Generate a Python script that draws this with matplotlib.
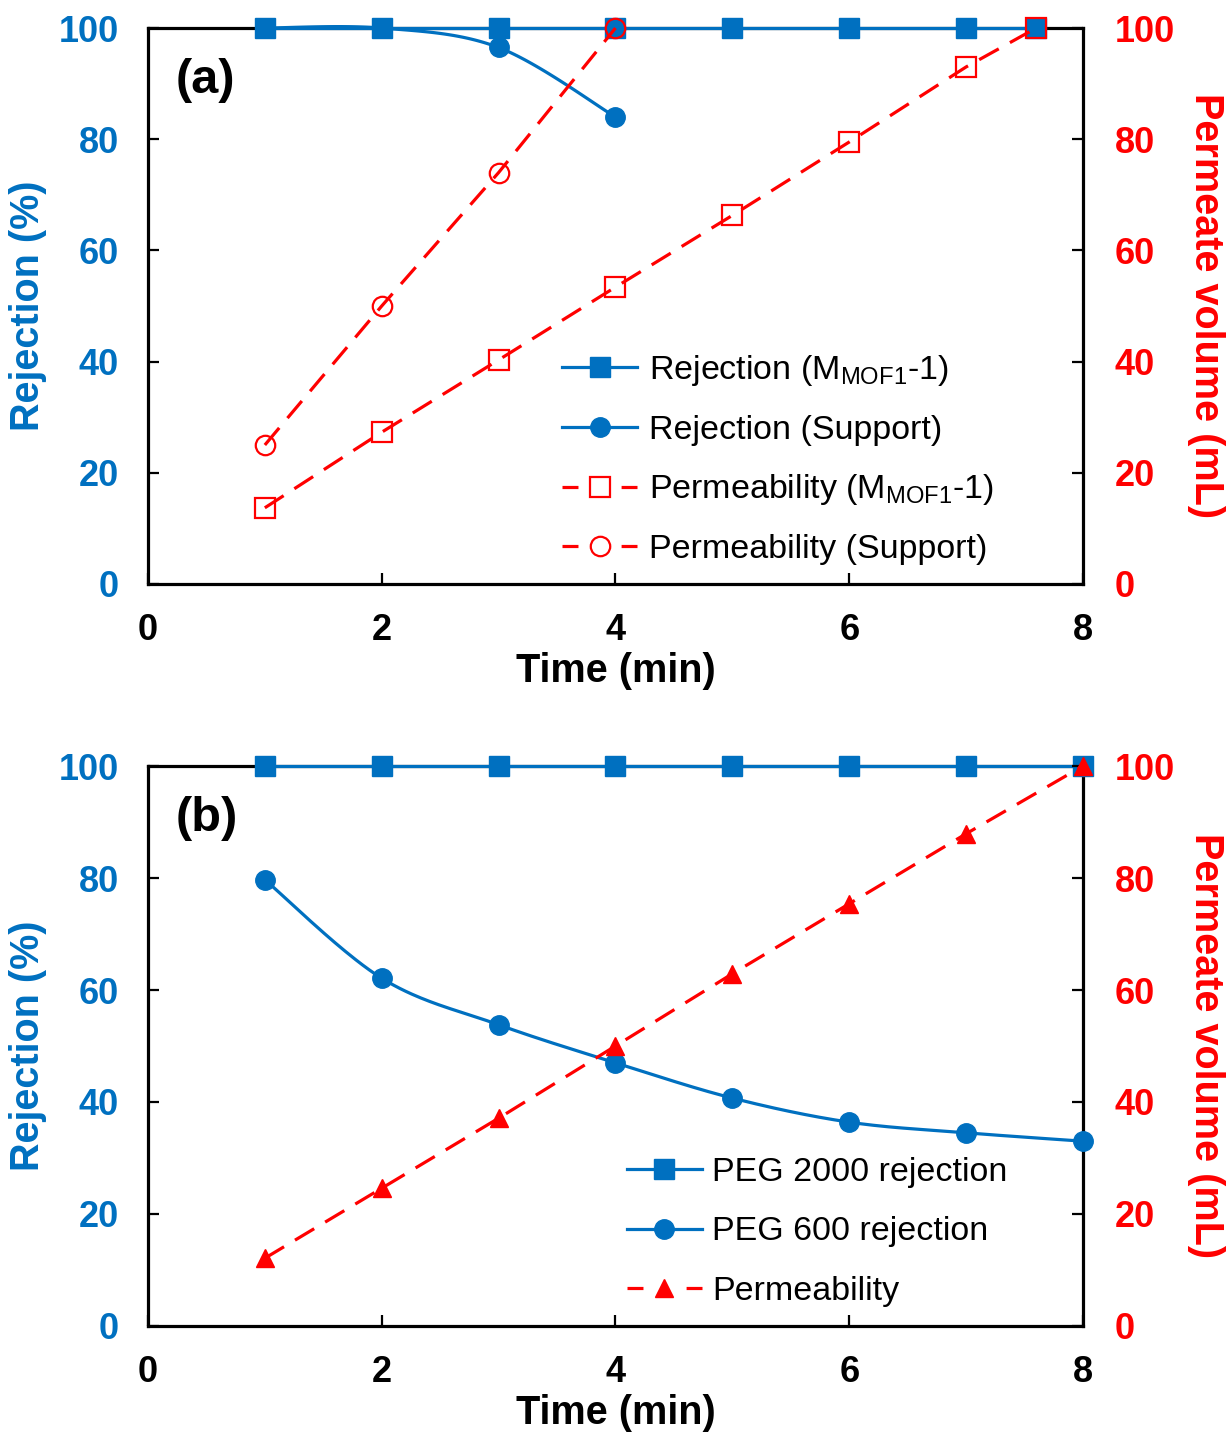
import numpy as np
import matplotlib
matplotlib.use("Agg")
import matplotlib.pyplot as plt
from matplotlib.lines import Line2D

plt.rcParams['font.family'] = ['Liberation Sans', 'DejaVu Sans']
plt.rcParams['mathtext.fontset'] = 'custom'
plt.rcParams['mathtext.rm'] = 'Liberation Sans'
plt.rcParams['mathtext.it'] = 'Liberation Sans:italic'
plt.rcParams['mathtext.bf'] = 'Liberation Sans:bold'

BLUE = '#0070C0'
RED = '#FF0000'

# ---- panel (a) data ----
a_time_mof = [1, 2, 3, 4, 5, 6, 7, 7.6]
a_rej_mof = [100, 100, 100, 100, 100, 100, 100, 100]
a_time_sup = [1, 2, 3, 4]
a_rej_sup = [100, 100, 96.5, 84]
a_perm_mof = [13.7, 27.3, 40.3, 53.4, 66.3, 79.5, 93.0, 100]
a_perm_sup = [25, 50, 74, 100]

# ---- panel (b) data ----
b_time = [1, 2, 3, 4, 5, 6, 7, 8]
b_rej_peg2000 = [100, 100, 100, 100, 100, 100, 100, 100]
b_rej_peg600 = [79.7, 62.1, 53.8, 47.0, 40.7, 36.4, 34.5, 33.0]
b_perm = [12.1, 24.6, 37.1, 50.0, 62.9, 75.4, 87.9, 100]

x_ticks = [0, 2, 4, 6, 8]
y_ticks = [0, 20, 40, 60, 80, 100]

TICK_FS = 26
LABEL_FS = 28.5
LEG_FS = 24.5


def smooth(x, y, n=40):
    # Bezier smoothing through the points (spreadsheet-style smoothed line)
    p = np.column_stack([x, y]).astype(float)
    out = [p[0]]
    t = np.linspace(0, 1, n)[1:, None]
    for i in range(len(p) - 1):
        p0 = p[i - 1] if i > 0 else p[i]
        p1, p2 = p[i], p[i + 1]
        p3 = p[i + 2] if i + 2 < len(p) else p[i + 1]
        c1 = p1 + (p2 - p0) / 6
        c2 = p2 - (p3 - p1) / 6
        seg = ((1 - t) ** 3) * p1 + 3 * ((1 - t) ** 2) * t * c1 + 3 * (1 - t) * t ** 2 * c2 + t ** 3 * p2
        out.extend(seg)
    out = np.array(out)
    return out[:, 0], out[:, 1]


def style_axes(ax, ax2):
    ax.set_xlim(0, 8)
    ax.set_ylim(0, 100)
    ax2.set_ylim(0, 100)
    ax.set_xticks(x_ticks)
    ax.set_yticks(y_ticks)
    ax2.set_yticks(y_ticks)
    for s in ax.spines.values():
        s.set_linewidth(2.3)
        s.set_color('black')
        s.set_zorder(1)
    for s in ax2.spines.values():
        s.set_visible(False)
    ax.tick_params(axis='x', direction='in', length=8, width=1.6, pad=21,
                   labelsize=TICK_FS, top=False)
    ax.tick_params(axis='y', direction='in', length=8, width=1.6, pad=21,
                   labelsize=TICK_FS, labelcolor=BLUE, right=False)
    ax2.tick_params(axis='y', direction='in', length=8, width=1.6, pad=23,
                    labelsize=TICK_FS, labelcolor=RED)
    for lab in ax.get_xticklabels() + ax.get_yticklabels() + ax2.get_yticklabels():
        lab.set_fontweight('bold')
    ax.set_xlabel('Time (min)', fontsize=LABEL_FS, fontweight='bold', labelpad=3)
    ax.set_ylabel('Rejection (%)', fontsize=LABEL_FS, fontweight='bold', color=BLUE, labelpad=8)
    ax2.set_ylabel('Permeate volume (mL)', fontsize=LABEL_FS, fontweight='bold', color=RED,
                   rotation=-90, labelpad=36)


fig = plt.figure(figsize=(12.27, 14.38), dpi=100)
ax_a = fig.add_axes([0.1206, 0.5939, 0.762, 0.3866])
ax_a2 = ax_a.twinx()
ax_b = fig.add_axes([0.1206, 0.0779, 0.762, 0.3894])
ax_b2 = ax_b.twinx()

dash = (7, 4)
leg_dash = (5, 13.5)

# ---- panel (a) ----
sx, sy = smooth(a_time_mof, a_rej_mof)
ax_a.plot(sx, sy, color=BLUE, lw=2.3, zorder=3, clip_on=False)
ax_a.plot(a_time_mof, a_rej_mof, ls='none', marker='s', ms=15, color=BLUE, zorder=4, clip_on=False)
sx, sy = smooth(a_time_sup, a_rej_sup)
ax_a.plot(sx, sy, color=BLUE, lw=2.3, zorder=3, clip_on=False)
ax_a.plot(a_time_sup, a_rej_sup, ls='none', marker='o', ms=14, color=BLUE, zorder=4, clip_on=False)

ax_a2.plot(a_time_mof, a_perm_mof, color=RED, lw=2.3, dashes=dash, marker='s', ms=14,
           mfc='none', mec=RED, mew=1.6, clip_on=False)
ax_a2.plot(a_time_sup, a_perm_sup, color=RED, lw=2.3, dashes=dash, marker='o', ms=14,
           mfc='none', mec=RED, mew=1.6, clip_on=False)
style_axes(ax_a, ax_a2)
ax_a.text(0.03, 0.906, '(a)', transform=ax_a.transAxes, fontsize=35, fontweight='bold',
          va='center', ha='left')

handles_a = [
    Line2D([], [], color=BLUE, lw=2.3, marker='s', ms=15),
    Line2D([], [], color=BLUE, lw=2.3, marker='o', ms=14),
    Line2D([], [], color=RED, lw=2.3, dashes=leg_dash, marker='s', ms=14, mfc='none', mew=1.6),
    Line2D([], [], color=RED, lw=2.3, dashes=leg_dash, marker='o', ms=14, mfc='none', mew=1.6),
]
labels_a = [r'Rejection (M$_{\mathrm{MOF1}}$-1)', 'Rejection (Support)',
            r'Permeability (M$_{\mathrm{MOF1}}$-1)', 'Permeability (Support)']
ax_a2.legend(handles_a, labels_a, loc='upper left', bbox_to_anchor=(0.443, 0.416),
             frameon=False, fontsize=LEG_FS, handlelength=2.2, handletextpad=0.35,
             labelspacing=0.79, borderpad=0, borderaxespad=0)

# ---- panel (b) ----
sx, sy = smooth(b_time, b_rej_peg2000)
ax_b.plot(sx, sy, color=BLUE, lw=2.3, zorder=3, clip_on=False)
ax_b.plot(b_time, b_rej_peg2000, ls='none', marker='s', ms=15, color=BLUE, zorder=4, clip_on=False)
sx, sy = smooth(b_time, b_rej_peg600)
ax_b.plot(sx, sy, color=BLUE, lw=2.3, zorder=3, clip_on=False)
ax_b.plot(b_time, b_rej_peg600, ls='none', marker='o', ms=14, color=BLUE, zorder=4, clip_on=False)

ax_b2.plot(b_time, b_perm, color=RED, lw=2.3, dashes=dash, marker='^', ms=13, clip_on=False)
style_axes(ax_b, ax_b2)
ax_b.text(0.03, 0.907, '(b)', transform=ax_b.transAxes, fontsize=35, fontweight='bold',
          va='center', ha='left')

handles_b = [
    Line2D([], [], color=BLUE, lw=2.3, marker='s', ms=15),
    Line2D([], [], color=BLUE, lw=2.3, marker='o', ms=14),
    Line2D([], [], color=RED, lw=2.3, dashes=leg_dash, marker='^', ms=13),
]
labels_b = ['PEG 2000 rejection', 'PEG 600 rejection', 'Permeability']
ax_b2.legend(handles_b, labels_b, loc='upper left', bbox_to_anchor=(0.512, 0.302),
             frameon=False, fontsize=LEG_FS, handlelength=2.2, handletextpad=0.3,
             labelspacing=0.84, borderpad=0, borderaxespad=0)

fig.savefig('out.png', dpi=100)
